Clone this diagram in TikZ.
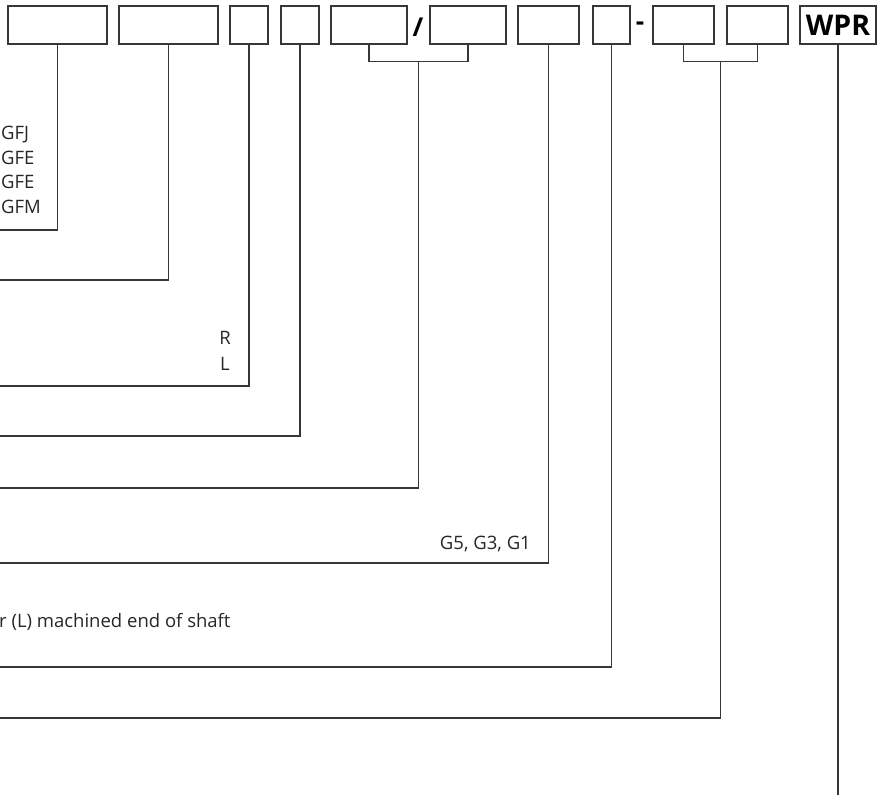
\documentclass[tikz,border=0pt]{standalone}
\usepackage{fontspec}
\setmainfont{Open Sans}
\usetikzlibrary{positioning,calc}
\definecolor{leadGray}{RGB}{55,55,55}
\tikzset{
  codebox/.style={draw=leadGray,line width=1.3pt,minimum height=38pt,inner sep=0pt},
  lead/.style={draw=leadGray,line width=1.3pt},
  opt/.style={font=\fontsize{18.5}{24.7}\selectfont,inner sep=0pt,text=black!85},
  sepmark/.style={font=\fontsize{26}{26}\selectfont\bfseries,inner sep=0pt},
}

\begin{document}
\begin{tikzpicture}[x=1pt,y=-1pt]
  \useasboundingbox (0,0) rectangle (883,795);

  \node[codebox,minimum width=99pt] (c1)  at (57.5,25)  {};
  \node[codebox,minimum width=99pt] (c2)  at (168.5,25) {};
  \node[codebox,minimum width=38pt] (c3)  at (249,25)   {};
  \node[codebox,minimum width=38pt] (c4)  at (300,25)   {};
  \node[codebox,minimum width=76pt] (c5)  at (369,25)   {};
  \node[sepmark]                    (slash) at (418,27) {/};
  \node[codebox,minimum width=76pt] (c6)  at (468,25)   {};
  \node[codebox,minimum width=61pt] (c7)  at (548.5,25) {};
  \node[codebox,minimum width=37pt] (c8)  at (611.5,25) {};
  \node[sepmark]                    (dash) at (640,26)  {-};
  \node[codebox,minimum width=61pt] (c9)  at (683.5,25) {};
  \node[codebox,minimum width=61pt] (c10) at (757.5,25) {};
  \node[codebox,minimum width=76pt,font=\fontsize{28.5}{28.5}\selectfont\bfseries] (wpr) at (838,25) {WPR};

  \coordinate (e1) at (0,230);
  \coordinate (e2) at (0,280);
  \coordinate (e3) at (0,386);
  \coordinate (e4) at (0,436);
  \coordinate (e5) at (0,488);
  \coordinate (e7) at (0,563);
  \coordinate (e8) at (0,667);
  \coordinate (e9) at (0,718);
  \coordinate (e11) at (838,795);
  \coordinate (m56)  at ($(c5.south)!.5!(c6.south)+(0,17)$);
  \coordinate (m910) at ($(c9.south)!.5!(c10.south)+(0,17)$);

  \draw[lead] (c1.south) |- (e1);
  \draw[lead] (c2.south) |- (e2);
  \draw[lead] (c3.south) |- (e3);
  \draw[lead] (c4.south) |- (e4);
  \draw[lead] (c5.south) -- ++(0,17) -| (c6.south);
  \draw[lead] (m56) |- (e5);
  \draw[lead] (c7.south) |- (e7);
  \draw[lead] (c8.south) |- (e8);
  \draw[lead] (c9.south) -- ++(0,17) -| (c10.south);
  \draw[lead] (m910) |- (e9);
  \draw[lead] (wpr.south) -- (e11);

  \node[opt,align=left,anchor=west]  (types) at (1,170)   {GFJ\\GFE\\GFE\\GFM};
  \node[opt,align=center,font=\fontsize{18.5}{26}\selectfont] (hand) at (225,351) {R\\L};
  \node[opt,anchor=east]             (grade) at (531,544) {G5, G3, G1};
  \node[opt,anchor=west]             (shaft) at (-1,622)  {r (L) machined end of shaft};
\end{tikzpicture}
\end{document}
